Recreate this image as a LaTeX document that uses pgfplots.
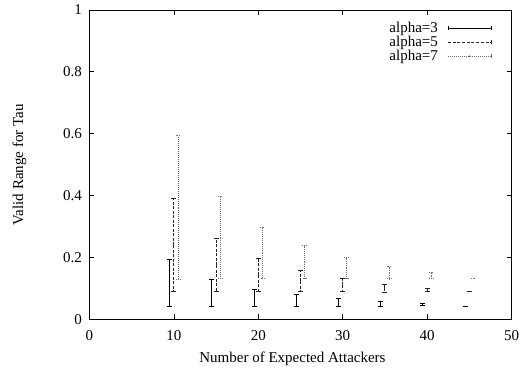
\documentclass[border=0pt]{standalone}
\usepackage{fontspec}
\setmainfont{Liberation Serif}
\usepackage{pgfplots}
\pgfplotsset{compat=1.18}
\begin{document}
\begin{tikzpicture}
\begin{axis}[
  scale only axis,
  width=422pt, height=309.5pt,
  xmin=0, xmax=50, ymin=0, ymax=1,
  xtick={0,10,...,50},
  ytick={0,0.2,0.4,0.6,0.8,1},
  yticklabels={0,0.2,0.4,0.6,0.8,1},
  tick align=inside,
  major tick length=5pt,
  minor tick num=0,
  axis line style={line width=0.9pt},
  every tick/.style={black, line width=0.8pt},
  /pgf/number format/assume math mode=true,
  tick label style={font=\fontsize{15}{17}\selectfont},
  xticklabel style={yshift=-7pt},
  yticklabel style={xshift=-4pt},
  label style={font=\fontsize{15}{17}\selectfont},
  xlabel={Number of Expected Attackers},
  ylabel={Valid Range for Tau},
  xlabel style={at={(axis description cs:0.481,-0.126)}, anchor=center},
  ylabel style={at={(axis description cs:-0.166,0.5)}, anchor=center},
  legend style={draw=none, fill=none, at={(rel axis cs:0.955,0.967)}, anchor=north east,
    font=\fontsize{15}{17}\selectfont, row sep=0pt, inner sep=1pt, nodes={inner sep=1pt}},
  legend plot pos=right,
  legend cell align=right,
  error bars/y dir=both,
  error bars/y explicit,
]
\addplot[draw=none, mark=none,
  error bars/error bar style={draw=black, line width=1pt, solid},
  error bars/error mark options={rotate=90, mark size=2.5pt, draw=black, line width=1pt, solid},
  legend image code/.code={\path (0pt,0pt) -- (9pt,0pt);
     \draw[black, line width=0.8pt] (9pt,0pt) -- (52pt,0pt);
     \draw[black, line width=0.8pt] (9pt,-2pt) -- (9pt,2pt) (52pt,-2pt) -- (52pt,2pt);}]
coordinates {
 (9.5,0.118) +- (0,0.075)
 (14.5,0.086) +- (0,0.043)
 (19.5,0.0705) +- (0,0.0275)
 (24.5,0.0615) +- (0,0.0185)
 (29.5,0.0545) +- (0,0.0125)
 (34.5,0.0505) +- (0,0.0075)
 (39.5,0.0475) +- (0,0.0035)
 (44.5,0.043) +- (0,0)
};
\addlegendentry{alpha=3}
\addplot[draw=none, mark=none,
  error bars/error bar style={draw=black!85, line width=1pt, dash pattern=on 3pt off 1.5pt},
  error bars/error mark options={rotate=90, mark size=2.5pt, draw=black!85, line width=1pt, solid},
  legend image code/.code={\path (0pt,0pt) -- (9pt,0pt);
     \draw[black!85, line width=0.8pt, dash pattern=on 3pt off 1.7pt] (9pt,0pt) -- (52pt,0pt);
     \draw[black!85, line width=0.8pt] (52pt,-2pt) -- (52pt,2pt);}]
coordinates {
 (10,0.2405) +- (0,0.1515)
 (15,0.176) +- (0,0.087)
 (20,0.1435) +- (0,0.0545)
 (25,0.124) +- (0,0.035)
 (30,0.1105) +- (0,0.0215)
 (35,0.101) +- (0,0.013)
 (40,0.0945) +- (0,0.0055)
 (45,0.089) +- (0,0)
};
\addlegendentry{alpha=5}
\addplot[draw=none, mark=none,
  error bars/error bar style={draw=black!55, line width=1pt, dash pattern=on 1pt off 1pt},
  error bars/error mark options={rotate=90, mark size=2.5pt, draw=black!55, line width=1pt, dash pattern=on 1pt off 0.7pt},
  legend image code/.code={\path (0pt,0pt) -- (9pt,0pt);
     \draw[black!55, line width=0.8pt, dash pattern=on 1pt off 1pt] (9pt,0pt) -- (52pt,0pt);
     \draw[black!55, line width=0.8pt] (52pt,-2pt) -- (52pt,2pt);
     \fill[black!70] (30.5pt,0pt) circle (0.8pt);}]
coordinates {
 (10.5,0.3615) +- (0,0.2315)
 (15.5,0.2645) +- (0,0.1325)
 (20.5,0.215) +- (0,0.083)
 (25.5,0.185) +- (0,0.053)
 (30.5,0.1655) +- (0,0.0335)
 (35.5,0.1515) +- (0,0.0195)
 (40.5,0.1415) +- (0,0.0095)
 (45.5,0.132) +- (0,0)
};
\addlegendentry{alpha=7}
\end{axis}
\path ([xshift=-89.5pt,yshift=-52.5pt]current axis.south west) rectangle ([xshift=15.5pt,yshift=10pt]current axis.north east);
\end{tikzpicture}
\end{document}
